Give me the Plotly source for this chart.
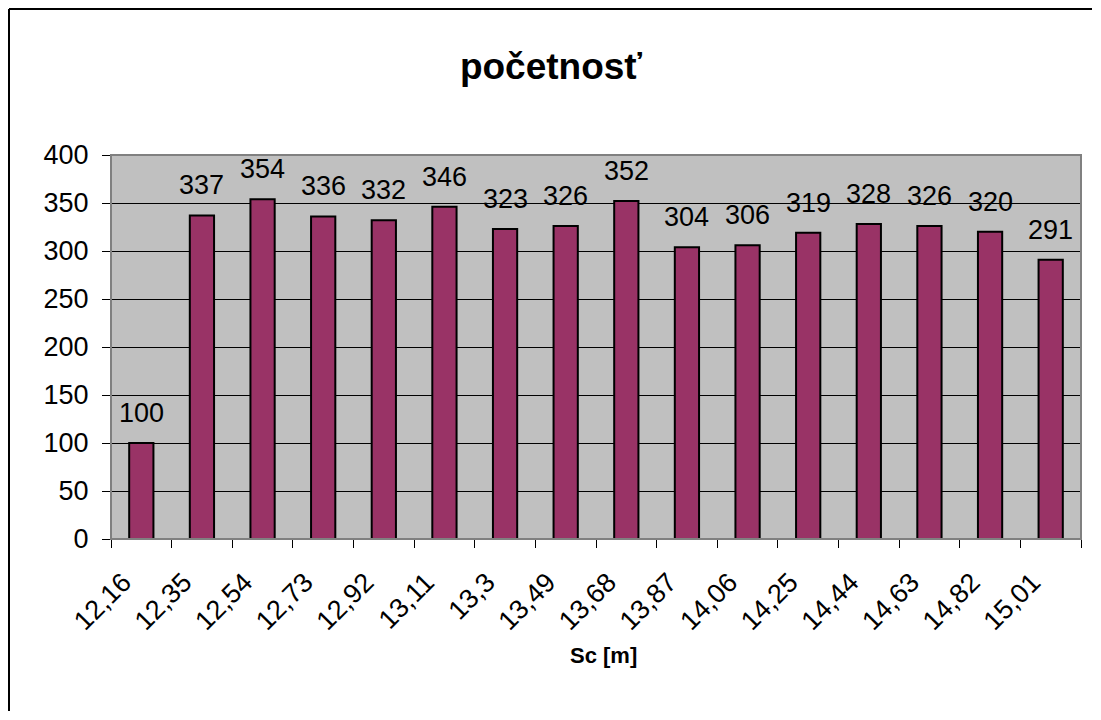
import plotly.graph_objects as go

categories = ["12,16", "12,35", "12,54", "12,73", "12,92", "13,11", "13,3", "13,49",
              "13,68", "13,87", "14,06", "14,25", "14,44", "14,63", "14,82", "15,01"]
counts = [100, 337, 354, 336, 332, 346, 323, 326, 352, 304, 306, 319, 328, 326, 320, 291]
y_ticks = [0, 50, 100, 150, 200, 250, 300, 350, 400]

OFF = 8  # page body margin
W, H = 1101 - 2 * OFF, 720 - 2 * OFF
L = 111 - OFF
T = 155 - OFF
R = W - (1081 - OFF)
B = H - (539 - OFF)
pw, ph = W - L - R, H - T - B
FONT = "Liberation Sans, Arial"

def px_x(p):  # page pixel -> paper
    return (p - OFF - L) / pw

def px_y(p):
    return (H - B - (p - OFF)) / ph

fig = go.Figure()
fig.add_trace(go.Bar(
    x=categories, y=counts,
    marker=dict(color="#993366", line=dict(color="black", width=2)),
    cliponaxis=False, hoverinfo="x+y",
))

annotations = [
    dict(x=c, y=v, xref="x", yref="y", text=str(v), showarrow=False,
         xanchor="center", yanchor="bottom", yshift=13,
         font=dict(family=FONT, size=27, color="black"))
    for c, v in zip(categories, counts)
]
annotations.append(
    dict(text="<b>Sc [m]</b>", xref="paper", yref="paper", x=px_x(603), y=px_y(655),
         xanchor="center", yanchor="middle", showarrow=False,
         font=dict(family=FONT, size=22, color="black"))
)

right_edge = OFF + W - 1
bottom_edge = OFF + H - 1

fig.update_layout(
    width=W, height=H,
    margin=dict(l=L, r=R, t=T, b=B, pad=0),
    paper_bgcolor="white", plot_bgcolor="#C0C0C0",
    font=dict(family=FONT, size=27, color="black"),
    bargap=0.6,
    showlegend=False,
    title=dict(text="<b>početnosť</b>", x=(551 - OFF) / W, xanchor="center", xref="container",
               y=1 - (66 - OFF) / H, yanchor="middle",
               font=dict(family=FONT, size=37, color="black")),
    xaxis=dict(type="category", tickson="boundaries", ticks="outside", ticklen=8,
               tickcolor="black", tickwidth=1, tickangle=-45,
               ticklabelshift=-18, ticklabelstandoff=21,
               tickfont=dict(size=27), showgrid=False, showline=False,
               zeroline=False, fixedrange=True),
    yaxis=dict(range=[0, 400], tickvals=y_ticks, ticks="outside", ticklen=8,
               tickcolor="black", tickwidth=1, showgrid=True, gridcolor="black",
               gridwidth=1, zeroline=False, showline=False, ticklabelstandoff=8,
               tickfont=dict(size=27)),
    shapes=[
        dict(type="rect", xref="paper", yref="paper", x0=0, x1=1, y0=0, y1=1,
             line=dict(color="#808080", width=2), layer="above"),
        dict(type="line", xref="paper", yref="paper",
             x0=px_x(9), x1=px_x(right_edge), y0=px_y(9), y1=px_y(9),
             line=dict(color="black", width=2)),
        dict(type="line", xref="paper", yref="paper",
             x0=px_x(9), x1=px_x(9), y0=px_y(9), y1=px_y(bottom_edge),
             line=dict(color="black", width=2)),
    ],
    annotations=annotations,
)

fig.write_html("out.html")
